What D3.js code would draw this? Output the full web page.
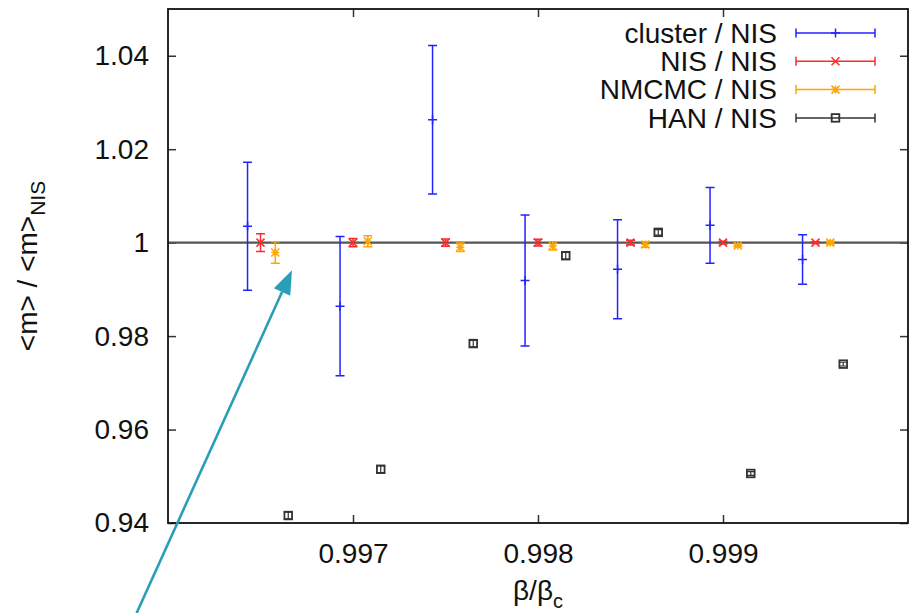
<!DOCTYPE html>
<html>
<head>
<meta charset="utf-8">
<script src="https://cdn.jsdelivr.net/npm/d3@7"></script>
<style>
  body { margin: 0; background: #fff; }
  svg { display: block; font-family: "Liberation Sans", Arial, sans-serif; }
</style>
</head>
<body>
<script>
// chart values
const nisX     = [0.9965, 0.997, 0.9975, 0.998, 0.9985, 0.999, 0.9995];
const clusterX = [0.99643, 0.99693, 0.99743, 0.99793, 0.99843, 0.99893, 0.99943];
const nmcmcX   = [0.99658, 0.99708, 0.99758, 0.99808, 0.99858, 0.99908, 0.99958];
const hanX     = [0.99665, 0.99715, 0.99765, 0.99815, 0.99865, 0.99915, 0.99965];

const clusterY   = [1.0035, 0.9864, 1.0263, 0.9919, 0.9943, 1.0037, 0.9964];
const clusterErr = [0.0137, 0.0149, 0.0159, 0.0140, 0.0106, 0.0081, 0.0053];
const nisY       = [1.0, 1.0, 1.0, 1.0, 1.0, 1.0, 1.0];
const nisErr     = [0.0019, 0.0009, 0.0008, 0.0007, 0.0005, 0.0003, 0.0002];
const nmcmcY     = [0.9979, 1.0003, 0.9990, 0.9993, 0.9996, 0.9994, 1.0000];
const nmcmcErr   = [0.0023, 0.0012, 0.0009, 0.0009, 0.0006, 0.0003, 0.0003];
const hanY       = [0.9416, 0.9515, 0.9784, 0.9972, 1.0022, 0.9506, 0.9740];
const hanErr     = [0.0007, 0.0007, 0.0007, 0.0007, 0.0006, 0.0004, 0.0004];

const xTicks = [0.997, 0.998, 0.999];
const yTicks = [0.94, 0.96, 0.98, 1.0, 1.02, 1.04];
const yTickLabels = ["0.94", "0.96", "0.98", "1", "1.02", "1.04"];

// annotation arrow (tip, tail) in data units
const arrowTip  = [0.99667, 0.9941];
const arrowTail = [0.99583, 0.9207];

const W = 912, H = 613;
const margin = { top: 9, right: 4, bottom: 90, left: 168 };
const width = W - margin.left - margin.right,
      height = H - margin.top - margin.bottom;

const svg = d3.select('body').append('svg')
    .attr('width', W)
    .attr('height', H);

const g = svg.append('g')
    .attr('transform', 'translate(' + margin.left + ',' + margin.top + ')');

const x = d3.scaleLinear().domain([0.996, 1.0]).range([0, width]);
const y = d3.scaleLinear().domain([0.94, 1.05]).range([height, 0]);

// axes (ticks pointing inward, mirrored on top/right)
function styleAxis(sel) {
  sel.select('.domain').remove();
  sel.selectAll('.tick line').attr('stroke', '#333').attr('stroke-width', 1.5);
  sel.selectAll('.tick text').attr('fill', '#111').style('font-size', '28px');
}

g.append('g')
    .attr('transform', 'translate(0,' + height + ')')
    .call(d3.axisBottom(x).tickValues(xTicks).tickSize(-8).tickPadding(20).tickFormat(d3.format('.3f')))
    .call(styleAxis);
g.append('g')
    .call(d3.axisTop(x).tickValues(xTicks).tickSize(-8).tickFormat(''))
    .call(styleAxis);
g.append('g')
    .call(d3.axisLeft(y).tickValues(yTicks).tickSize(-8).tickPadding(19)
      .tickFormat((d, i) => yTickLabels[i]))
    .call(styleAxis);
g.append('g')
    .attr('transform', 'translate(' + width + ',0)')
    .call(d3.axisRight(y).tickValues(yTicks).tickSize(-8).tickFormat(''))
    .call(styleAxis);

// reference line at 1
g.append('line')
    .attr('x1', 0).attr('x2', width)
    .attr('y1', y(1)).attr('y2', y(1))
    .attr('stroke', '#555').attr('stroke-width', 2.2);

// frame
g.append('rect')
    .attr('width', width).attr('height', height)
    .attr('fill', 'none').attr('stroke', '#111').attr('stroke-width', 1.8);

// markers
function marker(sel, type, s) {
  if (type === 'plus') {
    sel.append('path').attr('d', `M${-s},0H${s}M0,${-s}V${s}`);
  } else if (type === 'cross') {
    sel.append('path').attr('d', `M${-s},${-s}L${s},${s}M${-s},${s}L${s},${-s}`);
  } else if (type === 'star') {
    sel.append('path').attr('d', `M${-s},0H${s}M0,${-s}V${s}M${-s},${-s}L${s},${s}M${-s},${s}L${s},${-s}`);
  } else if (type === 'box') {
    sel.append('rect').attr('x', -s).attr('y', -s).attr('width', 2 * s).attr('height', 2 * s)
      .attr('fill', 'none');
  }
}

const series = [
  { name: 'cluster / NIS', xs: clusterX, ys: clusterY, es: clusterErr, color: '#2323ff', type: 'plus', s: 4.5 },
  { name: 'NIS / NIS',     xs: nisX,     ys: nisY,     es: nisErr,     color: '#ff2a2a', type: 'cross', s: 4 },
  { name: 'NMCMC / NIS',   xs: nmcmcX,   ys: nmcmcY,   es: nmcmcErr,   color: '#ffa500', type: 'star', s: 4 },
  { name: 'HAN / NIS',     xs: hanX,     ys: hanY,     es: hanErr,     color: '#333333', type: 'box', s: 3.8 }
];

const cap = 4.5;
series.forEach(sr => {
  const sg = g.append('g')
      .attr('stroke', sr.color).attr('stroke-width', 1.5).attr('fill', 'none');
  sr.xs.forEach((xv, i) => {
    const px = x(xv), py = y(sr.ys[i]);
    const yTop = y(sr.ys[i] + sr.es[i]), yBot = y(sr.ys[i] - sr.es[i]);
    sg.append('path')
        .attr('d', `M${px},${yTop}V${yBot}M${px - cap},${yTop}H${px + cap}M${px - cap},${yBot}H${px + cap}`)
        .attr('stroke-width', sr.type === 'box' ? 1.2 : 1.5);
    const m = sg.append('g').attr('transform', `translate(${px},${py})`)
        .attr('stroke-width', sr.type === 'box' ? 1.8 : 1.5);
    marker(m, sr.type, sr.s);
  });
});

// legend
const lg = svg.append('g');
series.forEach((sr, i) => {
  const ly = 33 + i * 28.3;
  lg.append('text')
      .attr('x', 777).attr('y', ly)
      .attr('dy', '0.35em')
      .attr('text-anchor', 'end')
      .style('font-size', '28px')
      .attr('fill', '#111')
      .text(sr.name);
  const row = lg.append('g').attr('stroke', sr.color).attr('stroke-width', 1.5).attr('fill', 'none');
  row.append('path').attr('d', `M796,${ly}H875M796,${ly - 4.5}V${ly + 4.5}M875,${ly - 4.5}V${ly + 4.5}`);
  const m = row.append('g').attr('transform', `translate(835.5,${ly})`)
      .attr('stroke-width', sr.type === 'box' ? 1.8 : 1.5);
  marker(m, sr.type, sr.s);
});

// axis titles
const xl = svg.append('text')
    .attr('x', margin.left + width / 2).attr('y', 600)
    .attr('text-anchor', 'middle')
    .style('font-size', '28px').attr('fill', '#111');
xl.append('tspan').text('β/β');
xl.append('tspan').attr('dy', 8).style('font-size', '20px').text('c');

const yl = svg.append('text')
    .attr('transform', `translate(37,${margin.top + height / 2}) rotate(-90)`)
    .attr('text-anchor', 'middle')
    .style('font-size', '28px').attr('fill', '#111');
yl.append('tspan').text('<m> / <m>');
yl.append('tspan').attr('dy', 8).style('font-size', '21px').text('NIS');

// teal annotation arrow
const tip = [margin.left + x(arrowTip[0]), margin.top + y(arrowTip[1])];
const tail = [margin.left + x(arrowTail[0]), margin.top + y(arrowTail[1])];
const ang = Math.atan2(tip[1] - tail[1], tip[0] - tail[0]);
const headLen = 24, headHalf = 9;
const bx = tip[0] - headLen * Math.cos(ang), by = tip[1] - headLen * Math.sin(ang);
const nx = -Math.sin(ang), ny = Math.cos(ang);
svg.append('line')
    .attr('x1', tail[0]).attr('y1', tail[1])
    .attr('x2', bx).attr('y2', by)
    .attr('stroke', '#2a9db8').attr('stroke-width', 2.6);
svg.append('path')
    .attr('d', `M${tip[0]},${tip[1]}L${bx + nx * headHalf},${by + ny * headHalf}L${bx - nx * headHalf},${by - ny * headHalf}Z`)
    .attr('fill', '#2a9db8');
</script>
</body>
</html>
